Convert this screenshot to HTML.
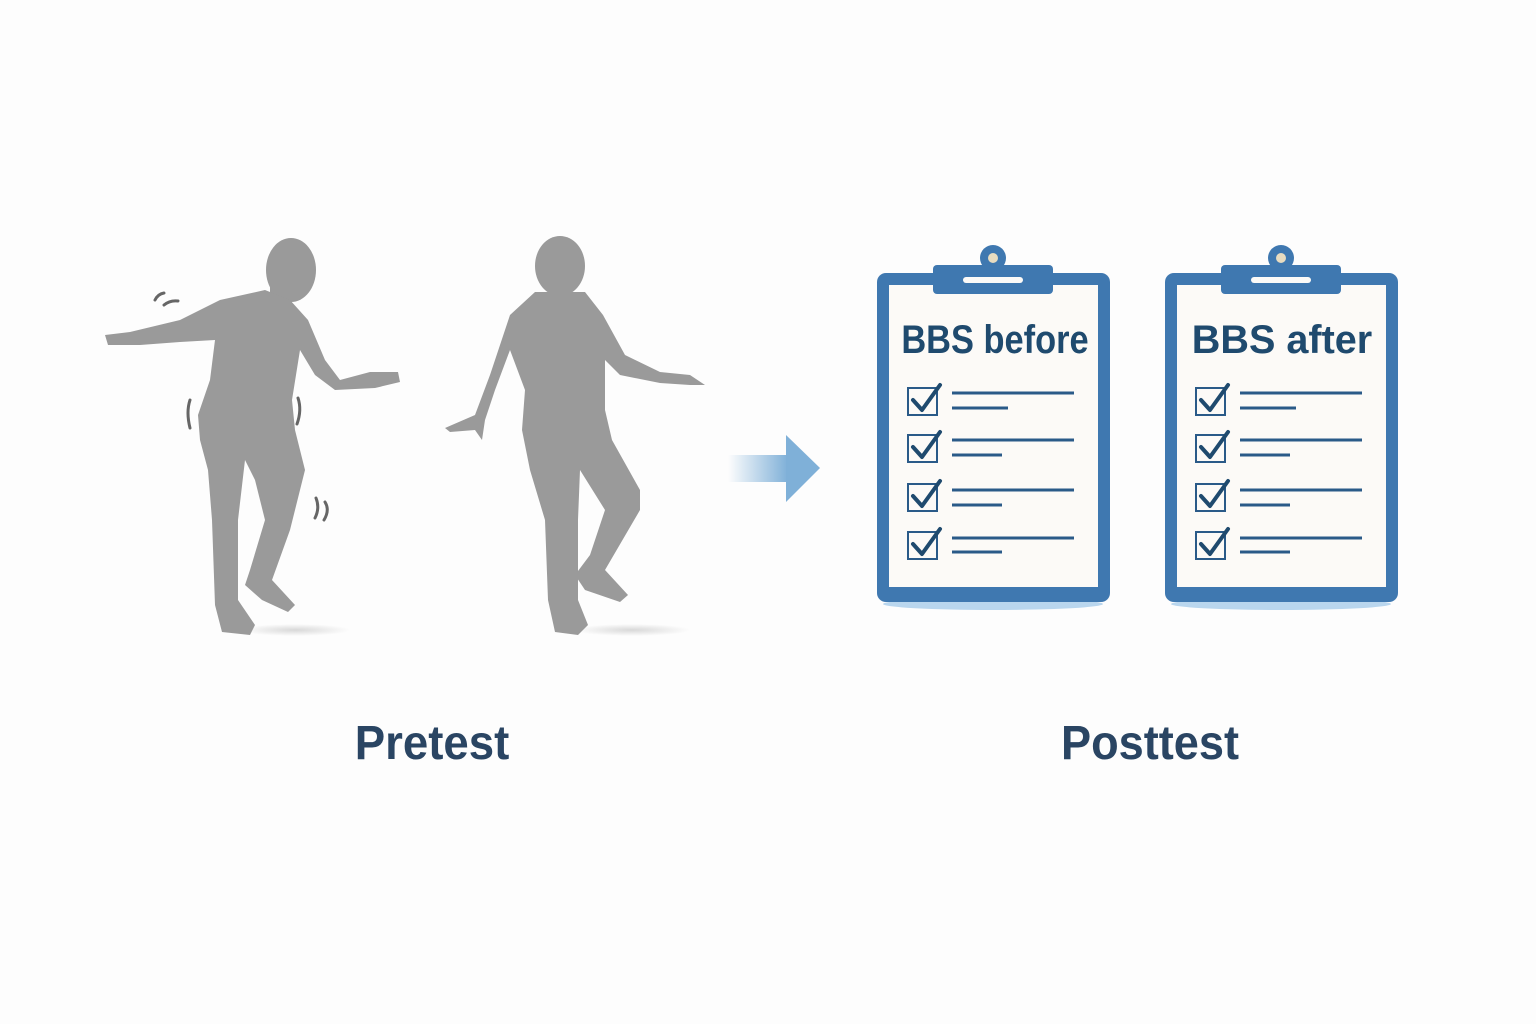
<!DOCTYPE html>
<html><head><style>
html,body{margin:0;padding:0;background:#fdfdfd;}
svg{display:block}
</style></head><body>
<svg width="1536" height="1024" viewBox="0 0 1536 1024" xmlns="http://www.w3.org/2000/svg">
<defs>
<linearGradient id="ag" x1="0" x2="1" y1="0" y2="0">
<stop offset="0" stop-color="#7fb0d8" stop-opacity="0"/>
<stop offset="1" stop-color="#7fb0d8"/>
</linearGradient>
<radialGradient id="sh"><stop offset="0" stop-color="#d8d8d8"/><stop offset="1" stop-color="#d8d8d8" stop-opacity="0"/></radialGradient>
</defs>
<rect width="1536" height="1024" fill="#fdfdfd"/>
<ellipse cx="295" cy="630" rx="55" ry="6" fill="url(#sh)"/>
<ellipse cx="632" cy="630" rx="58" ry="6" fill="url(#sh)"/>
<g fill="#9a9a9a">
<ellipse cx="291" cy="270" rx="25" ry="32"/>
<rect x="270" y="285" width="22" height="22"/>
<path d="M265,290 L290,300 L308,320 L325,360 L340,380 L370,372 L398,372 L400,382 L375,388 L335,390 L315,375 L300,350 L292,400 L295,430 L305,470 L290,530 L272,580 L295,605 L288,612 L262,600 L245,585 L250,570 L265,520 L255,480 L245,460 L238,520 L238,600 L255,625 L250,635 L222,632 L215,605 L212,520 L208,470 L200,440 L198,415 L210,380 L215,340 L180,342 L140,345 L108,345 L105,335 L130,332 L180,320 L220,300 Z"/>
<ellipse cx="560" cy="266" rx="25" ry="30"/>
<rect x="548" y="285" width="24" height="14"/>
<path d="M535,292 L585,292 L603,315 L625,355 L660,372 L690,375 L705,385 L690,385 L660,383 L620,375 L605,360 L605,410 L612,440 L640,490 L640,510 L605,570 L628,595 L620,602 L585,590 L575,575 L590,555 L605,510 L580,470 L578,520 L578,600 L588,625 L578,635 L555,632 L548,600 L545,520 L530,470 L522,430 L525,390 L510,350 L495,390 L485,420 L482,440 L475,430 L450,432 L445,428 L475,415 L490,375 L510,315 Z"/>
</g>
<g stroke="#666" stroke-width="3" fill="none" stroke-linecap="round">
<path d="M155,300 Q158,294 164,293"/><path d="M164,305 Q170,300 178,301"/>
<path d="M190,400 Q186,412 190,428"/><path d="M298,398 Q302,410 297,424"/>
<path d="M316,498 Q320,508 315,518"/><path d="M325,502 Q330,510 324,520"/>
</g>
<rect x="728" y="455" width="60" height="27" fill="url(#ag)"/>
<polygon points="786,435 820,468 786,502" fill="#7fb0d8"/>
<g>
<ellipse cx="993" cy="604" rx="110" ry="6" fill="#b9d6ee"/>
<rect x="877" y="273" width="233" height="329" rx="9" fill="#3f78b0"/>
<rect x="889" y="285" width="209" height="302" fill="#fcfaf7"/>
<rect x="933" y="265" width="120" height="29" rx="4" fill="#3f78b0"/>
<circle cx="993" cy="258" r="13" fill="#3f78b0"/>
<circle cx="993" cy="258" r="5" fill="#e8dcc0"/>
<rect x="963" y="277" width="60" height="6" rx="3" fill="#fcfaf7"/>
<text x="995" y="353" text-anchor="middle" font-family="Liberation Sans, sans-serif" font-weight="bold" font-size="40" fill="#1f4a6e" transform="translate(995 0) scale(0.86 1) translate(-995 0)">BBS before</text>
<g stroke="#2a5a88" fill="none">
<g stroke-width="2"><rect x="908" y="388" width="29" height="27"/><rect x="908" y="435" width="29" height="27"/><rect x="908" y="484" width="29" height="27"/><rect x="908" y="532" width="29" height="27"/></g>
<g stroke-width="4" stroke-linecap="round" stroke-linejoin="round" stroke="#1f4a6e">
<path d="M913,400 L922,410 L940,385"/><path d="M913,447 L922,457 L940,432"/><path d="M913,496 L922,506 L940,481"/><path d="M913,544 L922,554 L940,529"/>
</g>
<g stroke-width="3">
<path d="M952,393 H1074 M952,408 H1008 M952,440 H1074 M952,455 H1002 M952,490 H1074 M952,505 H1002 M952,538 H1074 M952,552 H1002"/>
</g>
</g>
</g>
<g transform="translate(288 0)">
<ellipse cx="993" cy="604" rx="110" ry="6" fill="#b9d6ee"/>
<rect x="877" y="273" width="233" height="329" rx="9" fill="#3f78b0"/>
<rect x="889" y="285" width="209" height="302" fill="#fcfaf7"/>
<rect x="933" y="265" width="120" height="29" rx="4" fill="#3f78b0"/>
<circle cx="993" cy="258" r="13" fill="#3f78b0"/>
<circle cx="993" cy="258" r="5" fill="#e8dcc0"/>
<rect x="963" y="277" width="60" height="6" rx="3" fill="#fcfaf7"/>
<text x="994" y="353" text-anchor="middle" font-family="Liberation Sans, sans-serif" font-weight="bold" font-size="40" fill="#1f4a6e" transform="translate(994 0) scale(0.99 1) translate(-994 0)">BBS after</text>
<g stroke="#2a5a88" fill="none">
<g stroke-width="2"><rect x="908" y="388" width="29" height="27"/><rect x="908" y="435" width="29" height="27"/><rect x="908" y="484" width="29" height="27"/><rect x="908" y="532" width="29" height="27"/></g>
<g stroke-width="4" stroke-linecap="round" stroke-linejoin="round" stroke="#1f4a6e">
<path d="M913,400 L922,410 L940,385"/><path d="M913,447 L922,457 L940,432"/><path d="M913,496 L922,506 L940,481"/><path d="M913,544 L922,554 L940,529"/>
</g>
<g stroke-width="3">
<path d="M952,393 H1074 M952,408 H1008 M952,440 H1074 M952,455 H1002 M952,490 H1074 M952,505 H1002 M952,538 H1074 M952,552 H1002"/>
</g>
</g>
</g>
<text x="432" y="759" text-anchor="middle" font-family="Liberation Sans, sans-serif" font-weight="bold" font-size="48" fill="#2a4563" transform="translate(432 0) scale(0.95 1) translate(-432 0)">Pretest</text>
<text x="1150" y="759" text-anchor="middle" font-family="Liberation Sans, sans-serif" font-weight="bold" font-size="48" fill="#2a4563" transform="translate(1150 0) scale(0.94 1) translate(-1150 0)">Posttest</text>
</svg>
</body></html>
